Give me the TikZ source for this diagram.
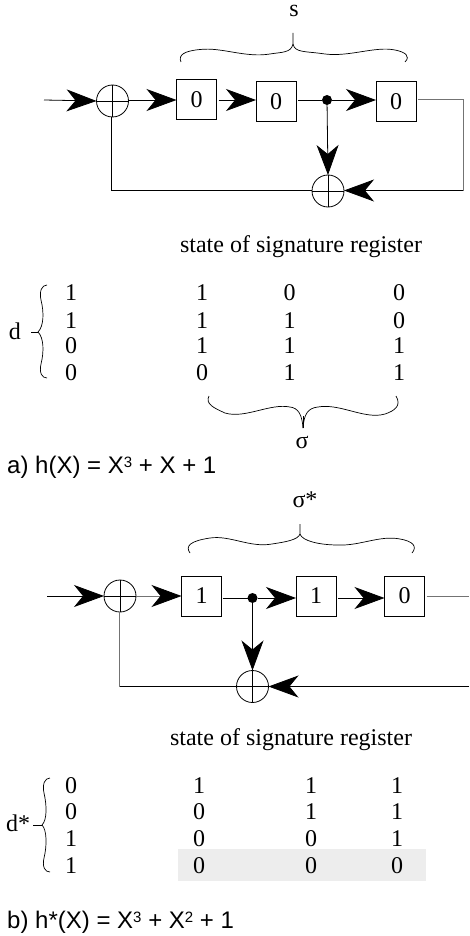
\documentclass[tikz,border=0pt]{standalone}
\usepackage{fontspec}
\setmainfont{Liberation Serif}
\newfontfamily\capfont{Liberation Sans}
\usetikzlibrary{arrows.meta, positioning, calc}
\newcommand{\capsup}[1]{\raisebox{6pt}{\fontsize{15}{15}\selectfont #1}}
\tikzset{
	regbox/.style={draw, minimum size=40pt, inner sep=0pt, outer sep=0pt, line width=1pt, font=\fontsize{24}{24}\selectfont},
	xorgate/.style={draw, circle, minimum size=32pt, inner sep=0pt, outer sep=0pt, line width=0.8pt,
		path picture={\draw [line width=0.8pt] (path picture bounding box.north) -- (path picture bounding box.south) (path picture bounding box.west) -- (path picture bounding box.east);}},
	tapdot/.style={circle, fill=black, minimum size=10pt, inner sep=0pt, outer sep=0pt},
	bigarrow/.style={line width=0.8pt, -{Stealth[length=30pt, width=22pt, inset=9pt, color=black]}},
	wire/.style={line width=0.8pt},
	graywire/.style={line width=1pt, black!55},
	curly/.style={line width=0.7pt},
	txt/.style={anchor=base, inner sep=0pt, font=\fontsize{24}{24}\selectfont},
	capline/.style={anchor=base west, inner sep=0pt, font=\capfont\fontsize{24}{24}\selectfont}
}
\begin{document}
\begin{tikzpicture}[x=1pt, y=-1pt]
	\useasboundingbox (0,0) rectangle (469,936);
	
	% part a
	\node [txt] (stopl) at (294,17) {s};
	\coordinate (ina) at (44,100);
	\node [xorgate] (xora) at (112.5,101) {};
	\node [regbox] (ra) at (196.5,100) {0};
	\node [regbox] (rb) at (276,102) {0};
	\node [tapdot] (tapa) at (327,100) {};
	\node [regbox] (rc) at (396,102) {0};
	\node [xorgate] (xorb) at (328,191) {};
	\coordinate (cornera) at (463,100);
	\coordinate (cornerb) at (463,190.5);
	\coordinate (cornerc) at (111,190.5);
	
	\draw [bigarrow] (ina) -- (xora.west);
	\draw [bigarrow] (xora.east |- ra.west) -- (ra.west);
	\draw [bigarrow] ($(ra.east)+(2,0)$) -- (rb.west |- ra.east);
	\draw [wire] ($(rb.east |- tapa)+(2,0)$) -- (tapa);
	\draw [bigarrow] (tapa) -- (rc.west |- tapa);
	\draw [bigarrow] (tapa) -- (xorb.north);
	\draw [graywire] ($(rc.east |- tapa)+(2,0)$) -- (cornera) -- (cornerb);
	\draw [bigarrow] (cornerb) -- (xorb.east |- cornerb);
	\draw [wire] (xorb.west |- cornerb) -- (cornerc) -- (cornerc |- xora.south);
	
	\draw [curly] (181,62) .. controls (178,55) and (184,51) .. (200,49.5) .. controls (222,47) and (245,58) .. (270,54) .. controls (282,52) and (291,53) .. (293,44) -- (293,33);
	\draw [curly] (293,44) .. controls (295,53) and (305,51) .. (325,54) .. controls (350,57) and (375,46) .. (395,50) .. controls (405,52) and (411,56) .. (405,62);
	
	\node [txt] (statea) at (301,252) {state of signature register};
	
	\node [txt] (da) at (15,339) {d};
	\foreach \y/\a/\b/\c/\e/\n in {300/1/1/0/0/1, 328/1/1/1/0/2, 353/0/1/1/1/3, 380/0/0/1/1/4}
	{
		\node [txt] (da\n) at (71,\y) {\a};
		\node [txt] (sa\n) at (202,\y) {\b};
		\node [txt] (ta\n) at (289.5,\y) {\c};
		\node [txt] (ua\n) at (399,\y) {\e};
	}
	\draw [curly] (47,285) .. controls (42,285) and (39,291) .. (41,300) .. controls (44,312) and (44,326) .. (38,332) .. controls (44,338) and (44,352) .. (41,364) .. controls (39,373) and (42,378) .. (47,378);
	\draw [line width=1pt] (31,332) -- (38,332);
	
	\draw [curly] (209,396) .. controls (205,404) and (214,408) .. (225,413) .. controls (245,419) and (270,403) .. (290,407) .. controls (298,408) and (302,414) .. (303,428);
	\draw [curly] (303,428) .. controls (304,414) and (308,408) .. (318,407) .. controls (340,403) and (365,420) .. (385,414) .. controls (394,411) and (402,406) .. (396,396);
	\draw [line width=1pt] (303,416) -- (303,428);
	\node [txt] (sigma) at (302,448) {σ};
	\node [capline] (capa) at (7,473) {a) h(X) = X\capsup{3} + X + 1};
	
	% part b
	\node [txt] (stoplb) at (305,507) {σ*};
	\coordinate (inb) at (47,596);
	\node [xorgate] (xorc) at (120,596) {};
	\node [regbox] (rd) at (201.5,596) {1};
	\node [tapdot] (tapb) at (252.5,598) {};
	\node [regbox] (re) at (316,596) {1};
	\node [regbox] (rf) at (404.5,596) {0};
	\node [xorgate] (xord) at (252.5,686.5) {};
	\coordinate (endb) at (469,596);
	\coordinate (endc) at (469,686.5);
	\coordinate (cornerd) at (119,686.5);
	
	\draw [bigarrow] (inb) -- (xorc.west);
	\draw [bigarrow, draw=black!55] (xorc.east) -- (rd.west);
	\draw [wire] ($(rd.east |- tapb)+(1,0)$) -- (tapb);
	\draw [bigarrow] (tapb) -- (re.west |- tapb);
	\draw [bigarrow] ($(re.east |- tapb)+(2,0)$) -- (rf.west |- tapb);
	\draw [bigarrow] (tapb) -- (xord.north);
	\draw [graywire] ($(rf.east)+(2,0)$) -- (endb);
	\draw [bigarrow] (endc) -- (xord.east);
	\draw [wire] (xord.west) -- (cornerd);
	\draw [graywire] (cornerd) -- (cornerd |- xorc.south);
	
	\draw [curly] (190,553) .. controls (185,546) and (190,541) .. (210,538) .. controls (230,535) and (250,548) .. (272,544) .. controls (285,542) and (298,540) .. (300,534) -- (300,524);
	\draw [curly] (300,534) .. controls (302,541) and (320,545) .. (338,545) .. controls (360,546) and (380,535) .. (400,539) .. controls (412,541) and (418,546) .. (412,553);
	
	\node [txt] (stateb) at (291,745) {state of signature register};
	
	\fill [black!7] (178,849) rectangle (426,881);
	
	\node [txt] (db) at (18,831) {d*};
	\foreach \y/\a/\b/\c/\e/\n in {793/0/1/1/1/1, 819/0/0/1/1/2, 846/1/0/0/1/3, 873/1/0/0/0/4}
	{
		\node [txt] (db\n) at (71,\y) {\a};
		\node [txt] (sb\n) at (199,\y) {\b};
		\node [txt] (tb\n) at (311,\y) {\c};
		\node [txt] (ub\n) at (397,\y) {\e};
	}
	\draw [curly] (50,778) .. controls (45,778) and (42,784) .. (44,793) .. controls (47,806) and (47,820) .. (42,825) .. controls (47,830) and (47,846) .. (44,858) .. controls (42,867) and (45,872) .. (50,872);
	\draw [wire] (33,825) -- (42,825);
	\node [capline] (capb) at (7,928) {b) h*(X) = X\capsup{3} + X\capsup{2} + 1};
\end{tikzpicture}
\end{document}
